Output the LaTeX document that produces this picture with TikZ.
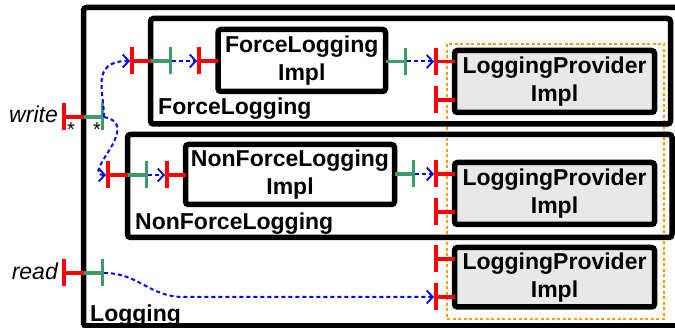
\documentclass[tikz,border=0pt]{standalone}
\usepackage{fontspec}
\setmainfont{Liberation Sans}
\usepackage{xcolor}
\usepackage{tikz}
\usetikzlibrary{arrows.meta, positioning, calc}

\definecolor{portred}{RGB}{255,0,0}
\definecolor{portgreen}{RGB}{60,155,105}
\definecolor{linkblue}{RGB}{0,0,255}
\definecolor{grouporange}{RGB}{255,153,0}
\definecolor{provgray}{RGB}{232,232,232}

\begin{document}
\begin{tikzpicture}[
    x=1pt, y=-1pt,
    box/.style={rectangle, draw, line width=5.5pt, rounded corners=3pt, outer sep=0pt, inner sep=0pt, anchor=north west},
    impl/.style={box, align=center, font=\bfseries\fontsize{23}{28}\selectfont},
    provider/.style={impl, fill=provgray, minimum width=200pt},
    lbl/.style={anchor=base west, inner sep=0pt, font=\bfseries\fontsize{23}{28}\selectfont},
    opname/.style={anchor=base east, inner sep=0pt, font=\itshape\fontsize{23}{28}\selectfont},
    mult/.style={inner sep=0pt, font=\fontsize{20}{20}\selectfont},
    redport/.style={draw=portred, line width=3.5pt, {Bar[width=27pt]}-},
    greenport/.style={draw=portgreen, line width=3.5pt, -{Bar[width=27pt]}},
    link/.style={draw=linkblue, line width=2pt, dash pattern=on 4pt off 3pt, -{Straight Barb[length=6pt,width=13pt,line width=1.8pt]}},
    group/.style={draw=grouporange, line width=2pt, dash pattern=on 3pt off 2.5pt}
]
\useasboundingbox (0,0) rectangle (675,328);
\clip (0,0) rectangle (675,328);

% Logging
\node[box, minimum width=600pt, minimum height=318.5pt] (logging) at (83.5,7.5) {};
\node[lbl] (loggingl) at (90,322) {Logging};
\node[group, rectangle, anchor=north west, minimum width=217pt, minimum height=275pt, inner sep=0pt] (provgroup) at (446,43) {};

% ForceLogging
\node[box, minimum width=520pt, minimum height=105.5pt] (flog) at (150.5,18.5) {};
\node[lbl] (flogl) at (158,115) {ForceLogging};
\node[impl, minimum width=167.5pt, minimum height=62pt] (flogimpl) at (218,29.5) {ForceLogging\\Impl};
\node[provider, minimum height=62pt] (prov1) at (454.5,50.5) {LoggingProvider\\Impl};

% NonForceLogging
\node[box, minimum width=544.5pt, minimum height=103pt] (nflog) at (127.5,134.5) {};
\node[lbl] (nflogl) at (135,230) {NonForceLogging};
\node[impl, minimum width=209pt, minimum height=60pt] (nflogimpl) at (185.5,144.5) {NonForceLogging\\Impl};
\node[provider, minimum height=62pt] (prov2) at (454.5,162.5) {LoggingProvider\\Impl};

% third provider
\node[provider, minimum height=59.5pt] (prov3) at (454.5,247.5) {LoggingProvider\\Impl};

% write / read ports
\coordinate (wr) at (62,117);
\coordinate (wg) at (104,117);
\node[opname] (write) at (58,123) {write};
\node[mult] (ws1) at (71,130) {*};
\node[mult] (ws2) at (97,130) {*};
\draw[redport] (wr) -- (wr -| logging.west);
\draw[greenport] (wr -| logging.west) -- (wg);

\coordinate (rr) at (62,273);
\coordinate (rg) at (104,273);
\node[opname] (read) at (58,280) {read};
\draw[redport] (rr) -- (rr -| logging.west);
\draw[greenport] (rr -| logging.west) -- (rg);

% ForceLogging ports
\coordinate (fr) at (130,61);
\coordinate (fg) at (172,61);
\coordinate (fir) at (197,61);
\coordinate (fig) at (407,61.5);
\coordinate (p1a) at (434,61.5);
\coordinate (p1b) at (434,100);
\draw[redport] (fr) -- (fr -| flog.west);
\draw[greenport] (fr -| flog.west) -- (fg);
\draw[redport] (fir) -- (fir -| flogimpl.west);
\draw[greenport] (fig -| flogimpl.east) -- (fig);
\draw[redport] (p1a) -- (p1a -| prov1.west);
\draw[redport] (p1b) -- (p1b -| prov1.west);

% NonForceLogging ports
\coordinate (nr) at (106,175);
\coordinate (ng) at (148,175);
\coordinate (nir) at (165,175);
\coordinate (nig) at (415,174);
\coordinate (p2a) at (434,174);
\coordinate (p2b) at (434,212);
\draw[redport] (nr) -- (nr -| nflog.west);
\draw[greenport] (nr -| nflog.west) -- (ng);
\draw[redport] (nir) -- (nir -| nflogimpl.west);
\draw[greenport] (nig -| nflogimpl.east) -- (nig);
\draw[redport] (p2a) -- (p2a -| prov2.west);
\draw[redport] (p2b) -- (p2b -| prov2.west);

% third provider ports
\coordinate (p3a) at (434,259);
\coordinate (p3b) at (434,297);
\draw[redport] (p3a) -- (p3a -| prov3.west);
\draw[redport] (p3b) -- (p3b -| prov3.west);

% links
\draw[link] (wg) .. controls +(0,-25) and +(-40,0) .. (fr);
\draw[link] (wg) .. controls +(40,8) and +(-26,0) .. (nr);
\draw[link] (fg) -- (fir);
\draw[link] (ng) -- (nir);
\draw[link] (fig) -- (p1a);
\draw[link] (nig) -- (p2a);
\draw[link] (rg) .. controls +(35,0) and +(-35,0) .. ($(p3b)+(-250,0)$) -- (p3b);

\end{tikzpicture}
\end{document}
